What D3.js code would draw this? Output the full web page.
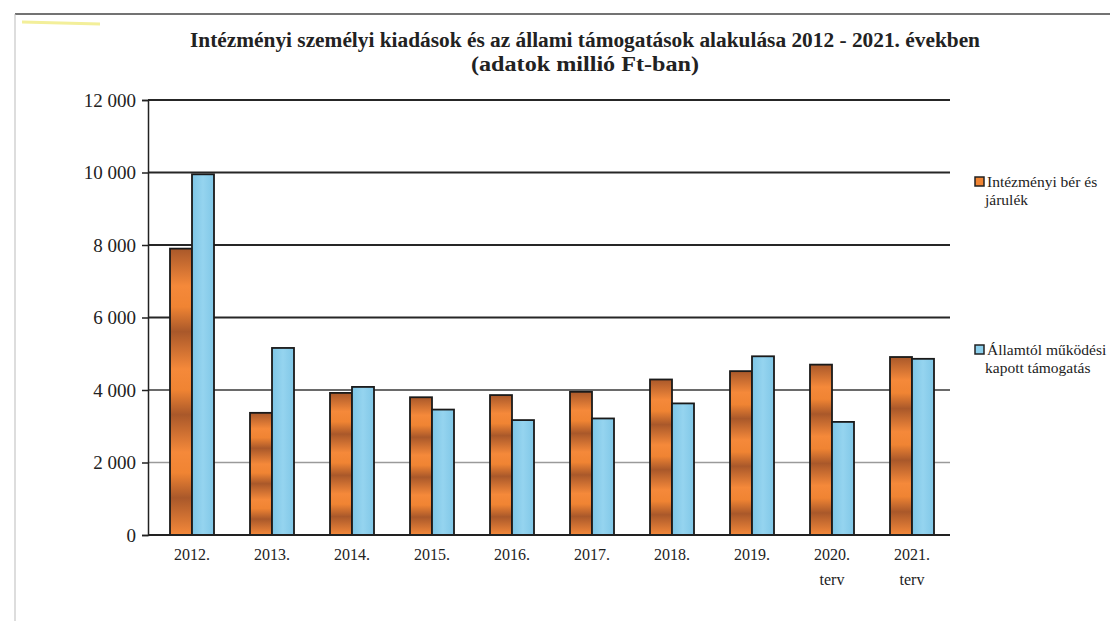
<!DOCTYPE html>
<html>
<head>
<meta charset="utf-8">
<script src="https://cdn.jsdelivr.net/npm/d3@7"></script>
<style>
  html, body { margin: 0; padding: 0; background: #fff; }
  svg { display: block; }
</style>
</head>
<body>
<script>
// ---- data ----
const categories = ["2012.", "2013.", "2014.", "2015.", "2016.", "2017.", "2018.", "2019.", "2020.", "2021."];
const subLabels = ["", "", "", "", "", "", "", "", "terv", "terv"];
const seriesNames = ["Intézményi bér és járulék", "Államtól működési kapott támogatás"];
const berJarulek = [7900, 3370, 3920, 3800, 3860, 3950, 4290, 4520, 4700, 4910];
const allamiTamogatas = [9950, 5160, 4085, 3460, 3170, 3215, 3630, 4930, 3120, 4860];
const yTicks = [0, 2000, 4000, 6000, 8000, 10000, 12000];
const titleLines = ["Intézményi személyi kiadások és az állami támogatások alakulása 2012 - 2021. években", "(adatok millió Ft-ban)"];
const legendLines = [["Intézményi bér és", "járulék"], ["Államtól működési", "kapott támogatás"]];

const W = 1110, H = 621;
const svg = d3.select("body").append("svg").attr("width", W).attr("height", H);
const serif = "'Liberation Serif', 'DejaVu Serif', serif";

// defs: textured fills
const defs = svg.append("defs");
const og = defs.append("linearGradient").attr("id", "orangeFill")
  .attr("x1", 0).attr("x2", 0).attr("y1", 0.0).attr("y2", 0.29).attr("spreadMethod", "repeat");
og.append("stop").attr("offset", 0).attr("stop-color", "#a9582a");
og.append("stop").attr("offset", 0.45).attr("stop-color", "#f5893a");
og.append("stop").attr("offset", 0.7).attr("stop-color", "#f08433");
og.append("stop").attr("offset", 1).attr("stop-color", "#a9582a");
const bg = defs.append("linearGradient").attr("id", "blueFill")
  .attr("x1", 0).attr("x2", 1).attr("y1", 0).attr("y2", 0);
bg.append("stop").attr("offset", 0).attr("stop-color", "#7ec6e6");
bg.append("stop").attr("offset", 0.5).attr("stop-color", "#95d4ef");
bg.append("stop").attr("offset", 1).attr("stop-color", "#80c7e7");

// frame lines (scan border)
svg.append("line").attr("x1", 15).attr("x2", W).attr("y1", 14).attr("y2", 14)
  .attr("stroke", "#444").attr("stroke-width", 1.5);
svg.append("line").attr("x1", 15).attr("x2", 15).attr("y1", 14).attr("y2", H)
  .attr("stroke", "#bbb").attr("stroke-width", 1);
svg.append("line").attr("x1", 22).attr("x2", 100).attr("y1", 22).attr("y2", 24)
  .attr("stroke", "#f3ef9a").attr("stroke-width", 3);

// title
const titleLen = [790, 228];
svg.selectAll("text.title").data(titleLines).join("text")
  .attr("class", "title")
  .attr("x", 585).attr("y", (d, i) => 47 + i * 24)
  .attr("text-anchor", "middle")
  .attr("font-family", serif).attr("font-weight", "bold").attr("font-size", 20)
  .attr("textLength", (d, i) => titleLen[i]).attr("lengthAdjust", "spacingAndGlyphs")
  .attr("fill", "#222")
  .text(d => d);

// scales
const x0 = d3.scaleBand().domain(categories).range([152, 952]).paddingInner(0.45).paddingOuter(0.225);
const x1 = d3.scaleBand().domain(seriesNames).range([0, x0.bandwidth()]);
const y = d3.scaleLinear().domain([0, 12000]).range([535, 100]);

// gridlines
const gridColor = v => v === 2000 ? "#9a9a9a" : (v === 4000 ? "#6a6a6a" : "#262626");
svg.append("g").selectAll("line").data(yTicks.filter(v => v > 0)).join("line")
  .attr("x1", 148).attr("x2", 950)
  .attr("y1", d => y(d)).attr("y2", d => y(d))
  .attr("stroke", gridColor).attr("stroke-width", d => d <= 2000 ? 1.5 : 1.8);

// y axis
const yAxis = svg.append("g").attr("transform", "translate(148,0)")
  .call(d3.axisLeft(y).tickValues(yTicks).tickSize(6).tickPadding(6)
    .tickFormat(d => d3.format(",")(d).replace(",", " ")));
yAxis.select(".domain").attr("stroke", "#222").attr("stroke-width", 1.5);
yAxis.selectAll(".tick line").attr("stroke", "#222").attr("stroke-width", 1.5);
yAxis.selectAll(".tick text").attr("font-family", serif).attr("font-size", 19).attr("fill", "#222");

// bars
const rows = categories.map((c, i) => ({ cat: c, vals: [berJarulek[i], allamiTamogatas[i]] }));
const fills = ["url(#orangeFill)", "url(#blueFill)"];
const groups = svg.append("g").selectAll("g").data(rows).join("g")
  .attr("transform", d => `translate(${x0(d.cat)},0)`);
groups.selectAll("rect").data(d => d.vals.map((v, k) => ({ v, k }))).join("rect")
  .attr("x", d => x1(seriesNames[d.k]))
  .attr("width", x1.bandwidth())
  .attr("y", d => y(d.v))
  .attr("height", d => y(0) - y(d.v))
  .attr("fill", d => fills[d.k])
  .attr("stroke", "#1a1a1a").attr("stroke-width", 1.8);

// x axis
const xAxis = svg.append("g").attr("transform", "translate(0,535)")
  .call(d3.axisBottom(x0).tickSize(0).tickPadding(14));
xAxis.select(".domain").attr("d", "M148,0H950").attr("stroke", "#222").attr("stroke-width", 1.8);
xAxis.selectAll(".tick text").attr("font-family", serif).attr("font-size", 16).attr("fill", "#222");
svg.append("g").selectAll("text").data(categories.map((c, i) => ({ c, s: subLabels[i] })).filter(d => d.s))
  .join("text")
  .attr("x", d => x0(d.c) + x0.bandwidth() / 2).attr("y", 585)
  .attr("text-anchor", "middle")
  .attr("font-family", serif).attr("font-size", 16).attr("fill", "#222")
  .text(d => d.s);

// legend
const legY = [182, 350];
const swatch = ["#f08433", "#8ccfec"];
legendLines.forEach((lines, i) => {
  const g = svg.append("g").attr("transform", `translate(975,${legY[i]})`);
  g.append("rect").attr("x", 0).attr("y", -5).attr("width", 9).attr("height", 9)
    .attr("fill", swatch[i]).attr("stroke", "#222").attr("stroke-width", 1.5);
  g.selectAll("text").data(lines).join("text")
    .attr("x", (d, j) => j === 0 ? 12 : 10).attr("y", (d, j) => 5 + j * 18)
    .attr("font-family", serif).attr("font-size", 15.5).attr("fill", "#222")
    .text(d => d);
});
</script>
</body>
</html>
